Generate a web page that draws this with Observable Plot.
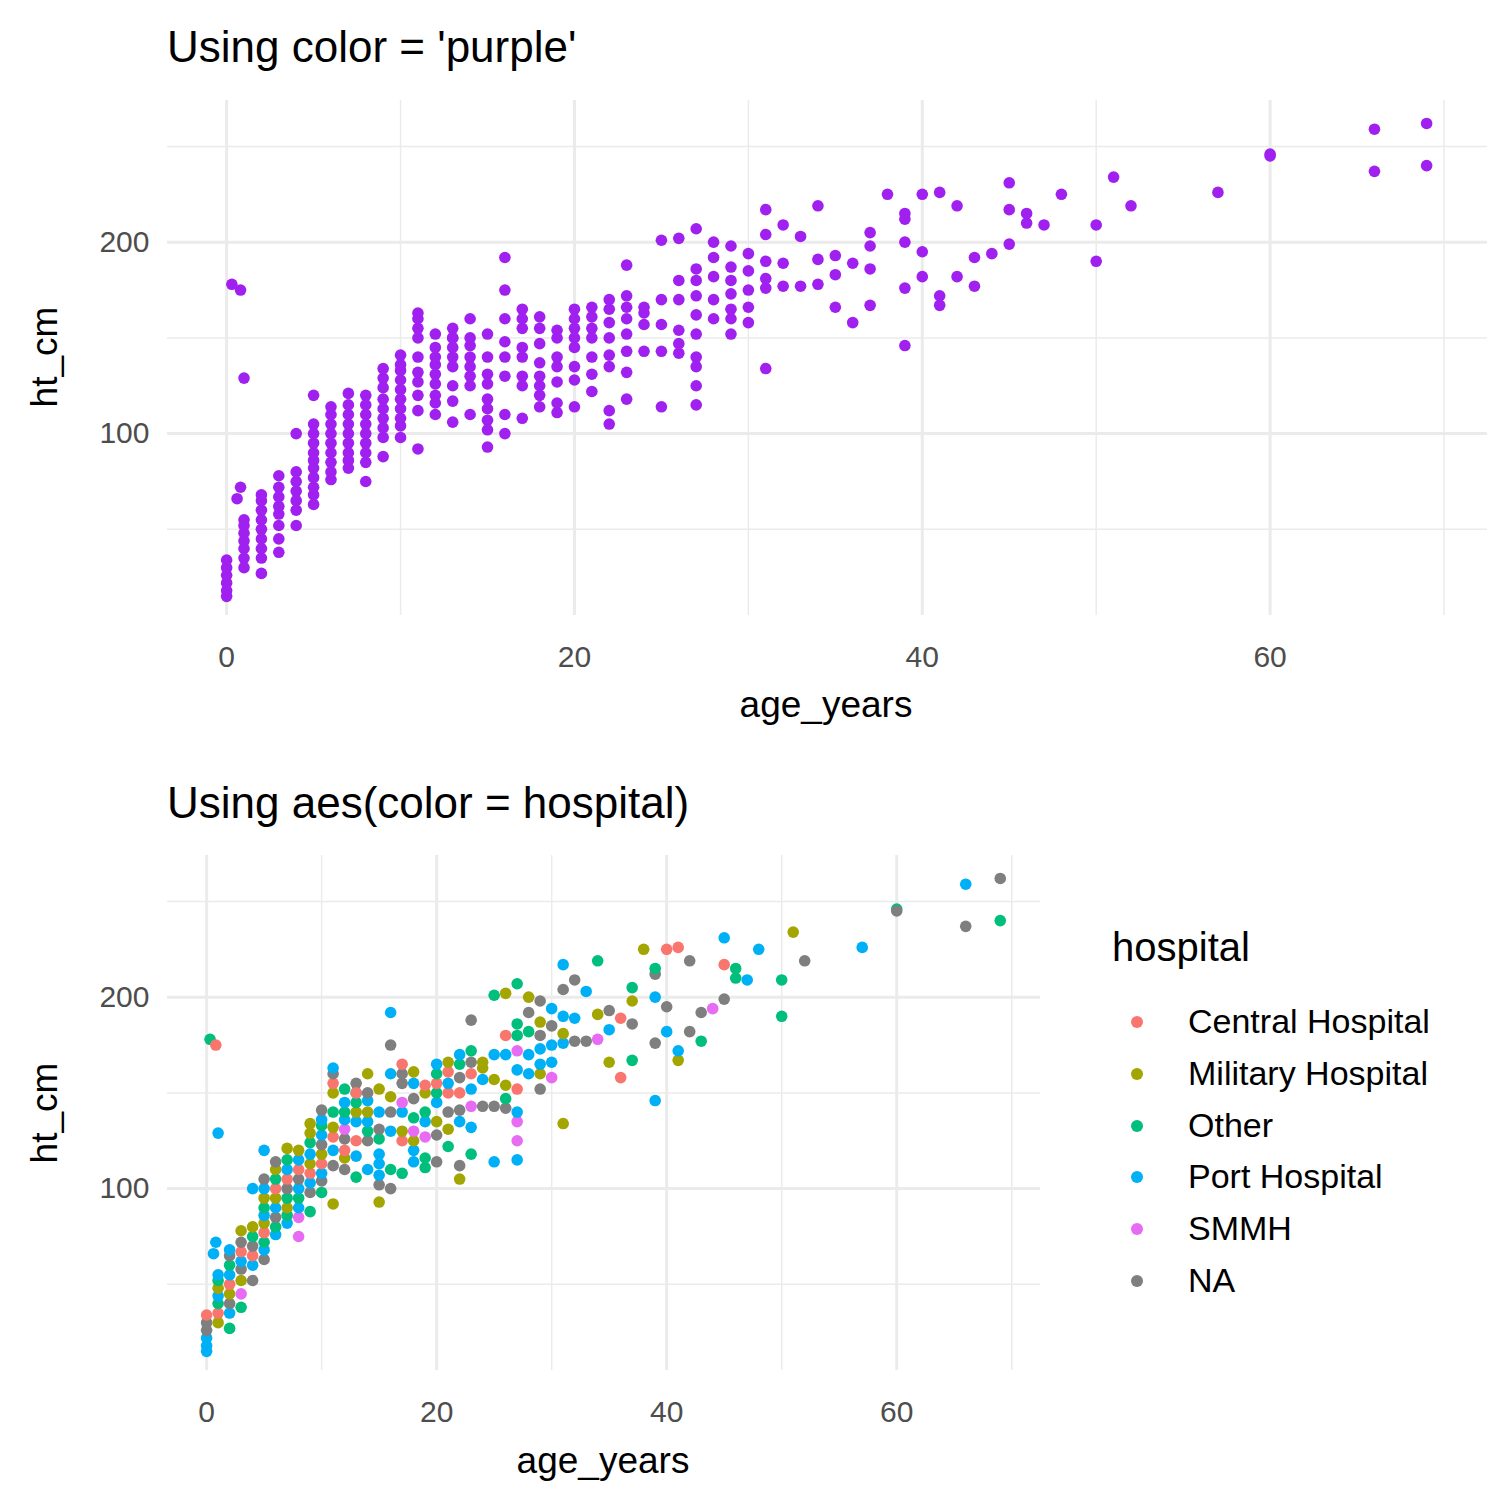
<!DOCTYPE html>
<html><head><meta charset="utf-8">
<script src="https://cdn.jsdelivr.net/npm/d3@7"></script>
<script src="https://cdn.jsdelivr.net/npm/@observablehq/plot@0.6"></script>
<style>
body{margin:0;background:#fff;font-family:"Liberation Sans",Arial,sans-serif;}
#root{position:relative;width:1512px;height:1512px;}
.abs{position:absolute;white-space:nowrap;color:#000;}
.t{font-size:44px;}
.ax{font-size:37px;}
</style></head><body><div id="root"></div>
<script>
const hospitalNames = ["Central Hospital","Military Hospital","Other","Port Hospital","SMMH","NA"];
const hospitalCodes = ["C","M","O","P","S","N"];
const hospitalColors = ["#F8766D","#A3A500","#00BF7D","#00B0F6","#E76BF3","#7F7F7F"];
const xTicks = [0,20,40,60];
const yTicks = [100,200];
const xMinor = [10,30,50,70];
const yMinor = [50,150,250];
// [age_years, ht_cm, hospital code]
const points = [
[0,15,"P"],[0,18,"P"],[0,22,"P"],[0,26,"N"],[0,30,"N"],[0,34,"C"],
[0.3,178,"O"],[0.6,66,"P"],[0.8,175,"C"],[0.8,72,"P"],[1,129,"P"],
[1,30,"M"],[1,35,"C"],[1,40,"O"],[1,44,"P"],[1,48,"M"],[1,52,"O"],[1,55,"P"],
[2,27,"O"],[2,35,"P"],[2,40,"N"],[2,45,"M"],[2,50,"C"],[2,55,"P"],[2,60,"O"],[2,65,"N"],[2,68,"P"],
[3,38,"O"],[3,45,"S"],[3,52,"M"],[3,58,"N"],[3,62,"P"],[3,67,"C"],[3,72,"N"],[3,78,"M"],
[4,52,"N"],[4,60,"P"],[4,65,"C"],[4,70,"N"],[4,75,"O"],[4,80,"M"],[4,100,"P"],
[5,63,"N"],[5,68,"P"],[5,72,"O"],[5,77,"C"],[5,82,"M"],[5,86,"P"],[5,90,"O"],[5,95,"M"],[5,100,"P"],[5,105,"N"],[5,120,"P"],
[6,76,"P"],[6,80,"O"],[6,85,"N"],[6,90,"P"],[6,95,"M"],[6,100,"C"],[6,105,"O"],[6,110,"M"],[6,114,"N"],
[7,82,"P"],[7,86,"O"],[7,90,"M"],[7,95,"O"],[7,100,"N"],[7,105,"C"],[7,110,"P"],[7,115,"O"],[7,121,"M"],
[8,75,"S"],[8,85,"S"],[8,90,"P"],[8,95,"O"],[8,100,"P"],[8,105,"N"],[8,110,"C"],[8,115,"P"],[8,120,"M"],
[9,88,"O"],[9,98,"N"],[9,103,"P"],[9,108,"C"],[9,113,"M"],[9,118,"P"],[9,124,"O"],[9,129,"M"],[9,134,"M"],
[10,98,"O"],[10,104,"N"],[10,108,"P"],[10,113,"C"],[10,118,"M"],[10,123,"N"],[10,128,"P"],[10,133,"O"],[10,136,"P"],[10,141,"N"],
[11,92,"M"],[11,112,"N"],[11,120,"P"],[11,127,"C"],[11,132,"M"],[11,140,"O"],[11,150,"M"],[11,155,"C"],[11,160,"N"],[11,163,"P"],
[12,110,"N"],[12,116,"M"],[12,120,"C"],[12,126,"N"],[12,131,"S"],[12,136,"P"],[12,140,"O"],[12,145,"P"],[12,152,"O"],
[13,106,"O"],[13,117,"P"],[13,125,"C"],[13,135,"P"],[13,140,"M"],[13,145,"O"],[13,150,"P"],[13,155,"N"],[13,150,"C"],
[14,110,"P"],[14,125,"N"],[14,130,"O"],[14,135,"P"],[14,140,"M"],[14,146,"P"],[14,150,"N"],[14,160,"M"],
[15,93,"M"],[15,102,"N"],[15,107,"P"],[15,113,"P"],[15,118,"P"],[15,126,"O"],[15,131,"N"],[15,140,"P"],[15,152,"M"],
[16,100,"N"],[16,110,"O"],[16,130,"P"],[16,140,"N"],[16,148,"M"],[16,160,"P"],[16,175,"N"],[16,192,"P"],
[17,108,"O"],[17,125,"C"],[17,130,"M"],[17,140,"P"],[17,145,"S"],[17,155,"N"],[17,160,"N"],[17,165,"C"],
[18,114,"P"],[18,120,"P"],[18,125,"M"],[18,130,"S"],[18,137,"O"],[18,147,"N"],[18,155,"P"],[18,161,"M"],
[19,111,"O"],[19,116,"O"],[19,127,"S"],[19,135,"P"],[19,140,"O"],[19,150,"M"],[19,154,"C"],
[20,114,"N"],[20,128,"N"],[20,135,"M"],[20,145,"P"],[20,150,"O"],[20,155,"C"],[20,160,"O"],[20,165,"P"],
[21,122,"O"],[21,131,"M"],[21,140,"N"],[21,150,"C"],[21,155,"P"],[21,161,"C"],[21,166,"M"],
[22,105,"M"],[22,112,"N"],[22,135,"P"],[22,141,"N"],[22,150,"C"],[22,158,"N"],[22,165,"O"],[22,170,"P"],
[23,118,"O"],[23,132,"P"],[23,143,"S"],[23,152,"P"],[23,160,"C"],[23,166,"N"],[23,172,"O"],[23,188,"N"],
[24,143,"N"],[24,157,"P"],[24,163,"M"],[24,166,"M"],
[25,114,"P"],[25,143,"N"],[25,157,"M"],[25,170,"P"],[25,201,"O"],
[26,142,"N"],[26,147,"O"],[26,154,"M"],[26,170,"P"],[26,180,"C"],[26,202,"M"],
[27,115,"P"],[27,125,"S"],[27,135,"S"],[27,140,"P"],[27,152,"C"],[27,162,"P"],[27,172,"S"],[27,180,"O"],[27,186,"O"],[27,207,"O"],
[28,160,"P"],[28,170,"P"],[28,182,"O"],[28,192,"N"],[28,200,"M"],
[29,152,"N"],[29,160,"M"],[29,165,"P"],[29,173,"P"],[29,180,"N"],[29,187,"M"],[29,198,"N"],
[30,158,"S"],[30,166,"P"],[30,175,"P"],[30,185,"N"],[30,194,"P"],
[31,134,"M"],[31,176,"P"],[31,181,"M"],[31,190,"P"],[31,204,"N"],[31,217,"P"],
[32,177,"N"],[32,189,"P"],[32,209,"N"],
[33,177,"N"],[33,203,"P"],
[34,178,"S"],[34,191,"M"],[34,219,"O"],
[35,166,"M"],[35,183,"P"],[35,193,"N"],
[36,158,"C"],[36,189,"C"],
[37,167,"O"],[37,186,"N"],[37,198,"M"],[37,205,"O"],
[38,225,"M"],
[39,146,"P"],[39,176,"N"],[39,200,"P"],[39,212,"N"],[39,215,"O"],
[40,182,"P"],[40,195,"N"],[40,225,"C"],
[41,167,"M"],[41,172,"P"],[41,226,"C"],
[42,182,"N"],[42,219,"N"],
[43,177,"O"],[43,192,"N"],
[44,194,"S"],
[45,199,"N"],[45,217,"C"],[45,231,"P"],
[46,210,"O"],[46,215,"O"],
[47,209,"P"],
[48,225,"P"],
[50,190,"O"],[50,209,"O"],
[51,234,"M"],
[52,219,"N"],
[57,226,"P"],
[60,246,"O"],[60,245,"N"],
[66,237,"N"],[66,259,"P"],
[69,240,"O"],[69,262,"N"]
];
const data = points.map(([a,h,c]) => ({age_years:a, ht_cm:h, hospital:hospitalNames[hospitalCodes.indexOf(c)]}));
const root = document.getElementById("root");
function add(el, css){ el.style.position="absolute"; el.style.whiteSpace="nowrap"; Object.assign(el.style, css); root.appendChild(el); return el; }
function text(s, cls, css){ const d=document.createElement("div"); d.className=cls; d.textContent=s; return add(d, css); }

function panel(width, height, mb, mr, fill, colorScale){
  return Plot.plot({
    width, height, marginTop:15, marginBottom:mb, marginLeft:167, marginRight:mr,
    x:{domain:[-3.4,72.5]}, y:{domain:[5,274]},
    color: colorScale,
    style:{fontFamily:"Liberation Sans, Arial, sans-serif", fontSize:"30px", color:"#4D4D4D", background:"#fff"},
    marks:[
      Plot.ruleX(xMinor,{stroke:"#EBEBEB",strokeWidth:1.5}),
      Plot.ruleY(yMinor,{stroke:"#EBEBEB",strokeWidth:1.5}),
      Plot.ruleX(xTicks,{stroke:"#EBEBEB",strokeWidth:3}),
      Plot.ruleY(yTicks,{stroke:"#EBEBEB",strokeWidth:3}),
      Plot.axisX({ticks:xTicks,tickSize:0,tickPadding:30,label:null,fill:"#4D4D4D"}),
      Plot.axisY({ticks:yTicks,tickSize:0,tickPadding:18,label:null,fill:"#4D4D4D"}),
      Plot.dot(data,{x:"age_years",y:"ht_cm",r:5.8,fill,stroke:null})
    ]
  });
}
text("Using color = 'purple'","t",{left:"167px",top:"22px"});
add(panel(1512, 650, 120, 25, "#A020F0", undefined),{left:"0px",top:"85px"});
text("age_years","ax",{left:"826px",top:"684px",transform:"translateX(-50%)"});
text("ht_cm","ax",{left:"45px",top:"357px",transform:"translate(-50%,-50%) rotate(-90deg)"});

text("Using aes(color = hospital)","t",{left:"167px",top:"778px"});
add(panel(1060, 670, 140, 20, "hospital", {domain:hospitalNames, range:hospitalColors}),{left:"0px",top:"840px"});
text("age_years","ax",{left:"603px",top:"1440px",transform:"translateX(-50%)"});
text("ht_cm","ax",{left:"45px",top:"1113px",transform:"translate(-50%,-50%) rotate(-90deg)"});

text("hospital","t",{left:"1112px",top:"925px",fontSize:"40px"});
hospitalNames.forEach((n,i)=>{
  const y = 1022 + i*51.8;
  const dot = document.createElement("div");
  add(dot,{left:(1137-6)+"px",top:(y-6)+"px",width:"12px",height:"12px",borderRadius:"50%",background:hospitalColors[i]});
  text(n,"",{left:"1188px",top:(y-20)+"px",fontSize:"34px"});
});
</script></body></html>
